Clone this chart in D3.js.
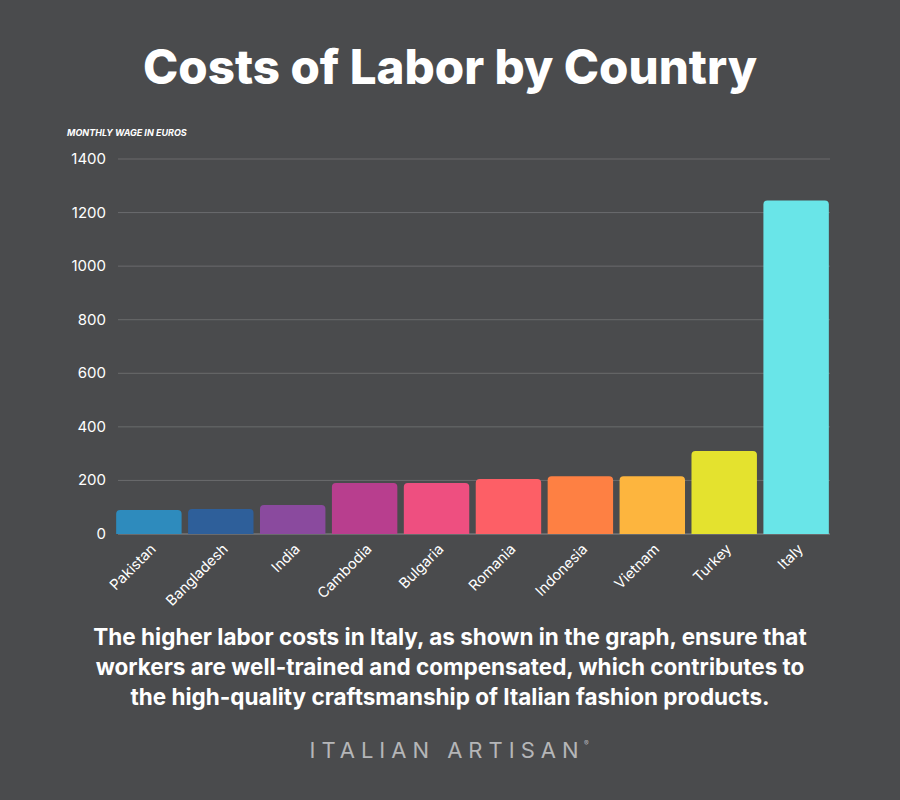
<!DOCTYPE html><html><head><meta charset="utf-8"><script src="https://cdn.jsdelivr.net/npm/d3@7"></script>
<style>body{margin:0;background:#4a4b4d}</style></head><body><svg id="c" width="900" height="800"></svg>
<script>
const countries=["Pakistan","Bangladesh","India","Cambodia","Bulgaria","Romania","Indonesia","Vietnam","Turkey","Italy"];
const wages=[90,93,108,190,190,205,216,216,310,1245];
const colors=["#2e8bbd","#2e5f9a","#8a4a9e","#b83e8e","#ee4f80","#fd5f66","#fe8043","#fdb53e","#e4e22e","#69e5e8"];
const yTicks=[0,200,400,600,800,1000,1200,1400];
const svg=d3.select("#c");
svg.append("rect").attr("width",900).attr("height",800).attr("fill","#4a4b4d");
const x=d3.scaleBand().domain(countries).range([114,831]).paddingInner(0.09).paddingOuter(0.03);
const y=d3.scaleLinear().domain([0,1400]).range([534,159]);
svg.append("text").attr("x",450).attr("y",84).attr("text-anchor","middle").attr("fill","#fff").attr("font-family","Inter, sans-serif").attr("font-weight",800).attr("font-size",47.5).text("Costs of Labor by Country");
svg.append("text").attr("x",67).attr("y",136).attr("fill","#fff").attr("font-family","Inter, sans-serif").attr("font-weight",700).attr("font-style","italic").attr("font-size",9).text("MONTHLY WAGE IN EUROS");
const g=svg.append("g");
yTicks.forEach(t=>{
 g.append("line").attr("x1",118).attr("x2",830).attr("y1",y(t)).attr("y2",y(t)).attr("stroke",t==0?"#8a8b8d":"#6a6b6d").attr("stroke-width",1);
 g.append("text").attr("x",106).attr("y",y(t)+5).attr("text-anchor","end").attr("fill","#fff").attr("font-family","Inter, sans-serif").attr("font-size",15).text(t);
});
countries.forEach((c,i)=>{
 svg.append("path").attr("fill",colors[i]).attr("d",()=>{const x0=x(c),w=x.bandwidth(),y0=y(wages[i]),r=4;return `M${x0},${y(0)}V${y0+r}Q${x0},${y0} ${x0+r},${y0}H${x0+w-r}Q${x0+w},${y0} ${x0+w},${y0+r}V${y(0)}Z`;});
 const cx=x(c)+x.bandwidth()/2+8;
 svg.append("text").attr("transform",`translate(${cx},${550}) rotate(-45)`).attr("text-anchor","end").attr("fill","#fff").attr("font-family","Inter, sans-serif").attr("font-size",14.5).text(c);
});
const cap=["The higher labor costs in Italy, as shown in the graph, ensure that","workers are well-trained and compensated, which contributes to","the high-quality craftsmanship of Italian fashion products."];
cap.forEach((l,i)=>svg.append("text").attr("x",450).attr("y",645+i*30).attr("text-anchor","middle").attr("fill","#fff").attr("font-family","Inter, sans-serif").attr("font-weight",700).attr("font-size",22.5).text(l));
svg.append("text").attr("x",447).attr("y",758).attr("text-anchor","middle").attr("fill","#b5b6b8").attr("font-family","Inter, sans-serif").attr("font-size",22).attr("letter-spacing",6).text("ITALIAN ARTISAN");
svg.append("text").attr("x",584).attr("y",746).attr("fill","#b5b6b8").attr("font-family","Inter, sans-serif").attr("font-size",7).text("®");
</script></body></html>
